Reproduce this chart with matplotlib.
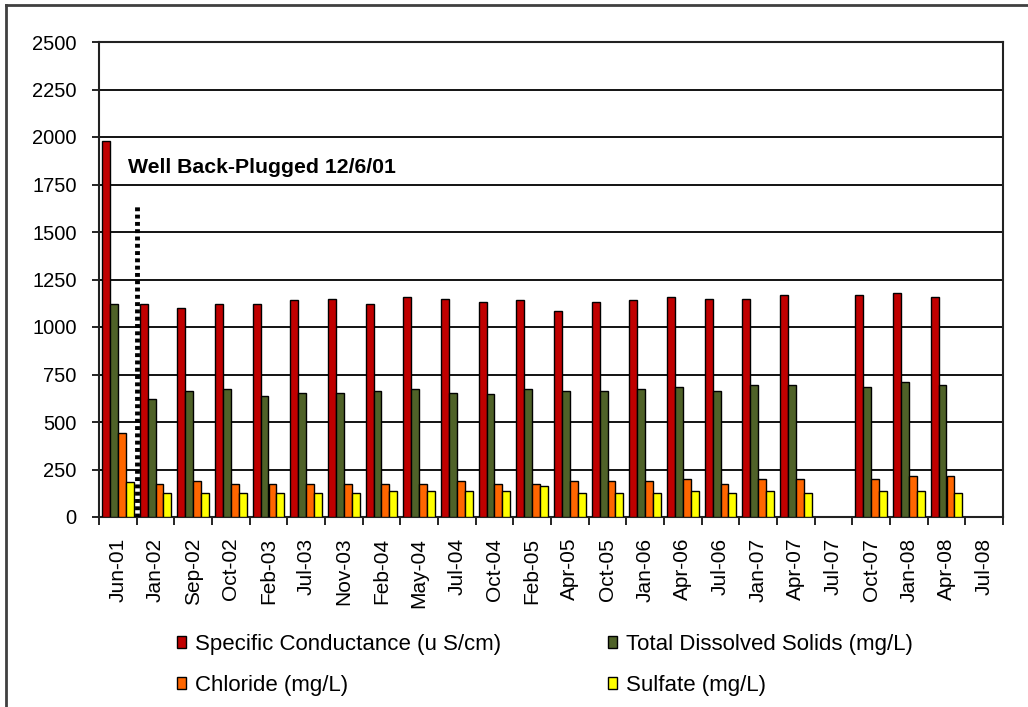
import matplotlib
matplotlib.use("Agg")
import matplotlib.pyplot as plt
import numpy as np
from matplotlib.patches import Patch
from matplotlib.lines import Line2D

plt.rcParams['font.family'] = ['Liberation Sans', 'DejaVu Sans']

categories = ["Jun-01", "Jan-02", "Sep-02", "Oct-02", "Feb-03", "Jul-03", "Nov-03",
              "Feb-04", "May-04", "Jul-04", "Oct-04", "Feb-05", "Apr-05", "Oct-05",
              "Jan-06", "Apr-06", "Jul-06", "Jan-07", "Apr-07", "Jul-07", "Oct-07",
              "Jan-08", "Apr-08", "Jul-08"]
nan = np.nan
conductance = [1980, 1120, 1100, 1120, 1120, 1140, 1150, 1120, 1160, 1150, 1130, 1140,
               1085, 1130, 1140, 1160, 1150, 1150, 1170, nan, 1170, 1180, 1160, nan]
tds = [1120, 620, 665, 675, 635, 655, 655, 665, 675, 655, 645, 675,
       665, 665, 675, 685, 665, 695, 695, nan, 685, 710, 695, nan]
chloride = [440, 175, 190, 175, 175, 175, 175, 175, 175, 190, 175, 175,
            190, 190, 190, 200, 175, 200, 200, nan, 200, 215, 215, nan]
sulfate = [185, 125, 125, 125, 125, 125, 125, 135, 135, 135, 135, 165,
           125, 125, 125, 135, 125, 135, 125, nan, 135, 135, 125, nan]

series_labels = ["Specific Conductance (u S/cm)", "Total Dissolved Solids (mg/L)",
                 "Chloride (mg/L)", "Sulfate (mg/L)"]
colors = ["#C00000", "#4F6228", "#FF6600", "#FFFF00"]
yticks = [0, 250, 500, 750, 1000, 1250, 1500, 1750, 2000, 2250, 2500]
plug_label = "Well Back-Plugged 12/6/01"
plug_line_top = 1640

fig = plt.figure(figsize=(10.28, 7.07), dpi=100)
ax = fig.add_axes([99/1028, 1 - 517/707, (1003-99)/1028, (517-42)/707])

x = np.arange(len(categories))
bw = 0.212
data = [conductance, tds, chloride, sulfate]
for k, (vals, col, lab) in enumerate(zip(data, colors, series_labels)):
    ax.bar(x + (k - 1.5) * bw, vals, width=bw, color=col, edgecolor="black",
           linewidth=1.0, label=lab, zorder=3)

ax.set_xlim(-0.5, len(categories) - 0.5)
ax.set_ylim(0, 2500)
ax.set_yticks(yticks)
ax.set_yticklabels([str(v) for v in yticks], fontsize=14.5)
ax.yaxis.grid(True, color="black", linewidth=1.3, zorder=0)
ax.set_axisbelow(True)
ax.tick_params(axis="y", length=5, width=1.2, direction="out", pad=11)

ax.set_xticks(x)
ax.set_xticklabels(categories, rotation=90, fontsize=15)
ax.tick_params(axis="x", length=0, pad=15)
ax.set_xticks(np.arange(-0.5, len(categories), 1.0), minor=True)
ax.tick_params(axis="x", which="minor", length=6, width=1.2, direction="out")

for sp in ax.spines.values():
    sp.set_linewidth(1.5)
    sp.set_color("#222222")

ax.plot([0.5, 0.5], [0, plug_line_top], color="black", linewidth=3.5,
        linestyle=(0, (0.8, 0.7)), zorder=5)
ax.text(0.27, 1837, plug_label, fontsize=15.3, fontweight="bold", va="center",
        ha="left", zorder=6)

handles = [Patch(facecolor=c, edgecolor="black", linewidth=1.0) for c in colors]
order = [0, 2, 1, 3]
fig.legend([handles[i] for i in order], [series_labels[i] for i in order],
           ncol=2, loc="upper left", bbox_to_anchor=(157/1028, 1 - 614/707),
           frameon=False, fontsize=16, handlelength=0.42, handleheight=0.42,
           handletextpad=0.4, labelspacing=0.9, columnspacing=4.8)

# outer border (left and top)
fig.add_artist(Line2D([6/1028, 6/1028], [0, 1 - 5/707], transform=fig.transFigure,
                      color="#404040", linewidth=2))
fig.add_artist(Line2D([6/1028, 1], [1 - 5/707, 1 - 5/707], transform=fig.transFigure,
                      color="#404040", linewidth=2))

fig.savefig("out.png", dpi=100)
